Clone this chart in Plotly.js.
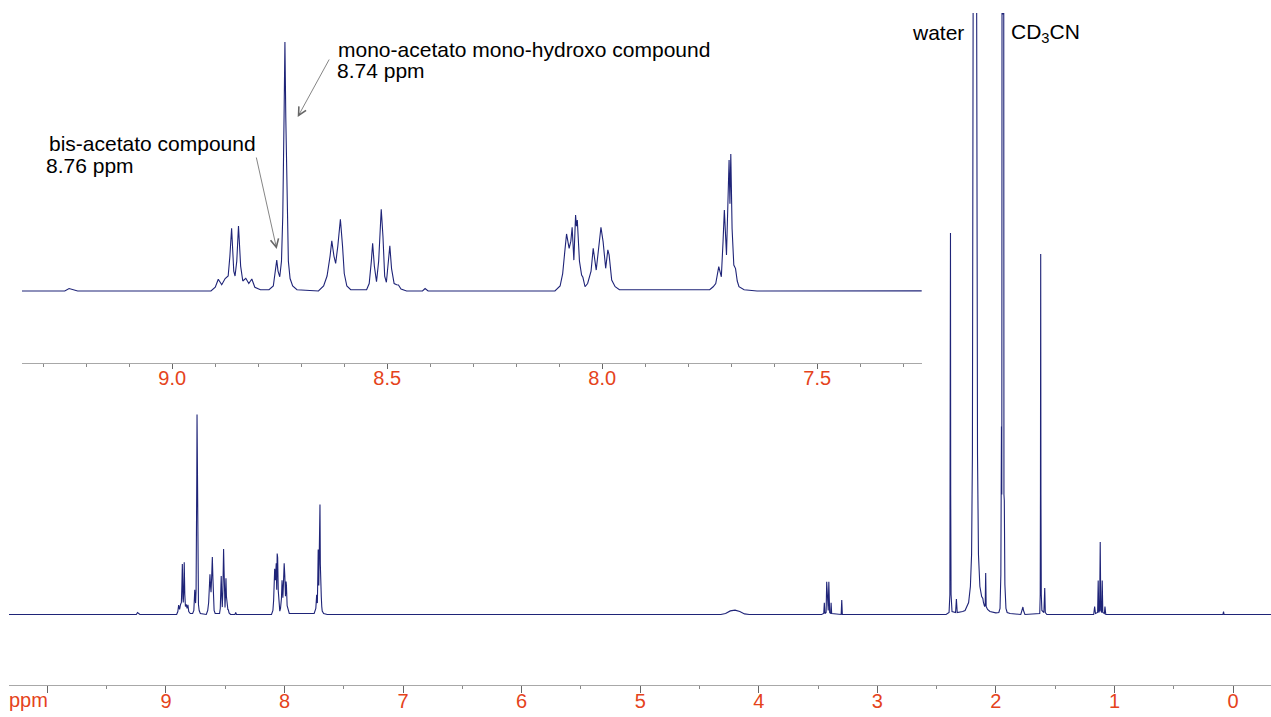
<!DOCTYPE html>
<html>
<head>
<meta charset="utf-8">
<script src="https://cdn.plot.ly/plotly-3.0.1.min.js"></script>
<style>
  html, body { margin: 0; padding: 0; background: #ffffff; }
  #chart { width: 1271px; height: 717px; }
</style>
</head>
<body>
<div id="chart"></div>
<script>
// 1H NMR spectrum (CD3CN), chemical shift in ppm and relative intensity (8.74 ppm line = 100)
const ppm = [
  10.35, 9.25, 9.24, 9.22,
  8.910, 8.900, 8.893, 8.885, 8.877, 8.870, 8.866, 8.862, 8.857, 8.854, 8.850, 8.846, 8.841, 8.836, 8.829, 8.822, 8.815, 8.808, 8.795,
  8.775, 8.765, 8.760, 8.757, 8.754, 8.750, 8.746, 8.743, 8.740, 8.738, 8.736, 8.733, 8.730, 8.726, 8.720, 8.710,
  8.660, 8.648, 8.640, 8.633, 8.629, 8.624, 8.620, 8.615, 8.609, 8.604, 8.600, 8.594, 8.585,
  8.548, 8.542, 8.537, 8.534, 8.530, 8.525, 8.520, 8.517, 8.514, 8.510, 8.506, 8.502, 8.498, 8.494, 8.490, 8.484, 8.478, 8.474, 8.468, 8.455,
  8.418, 8.412, 8.405,
  8.110, 8.098, 8.092, 8.087, 8.083, 8.077, 8.073, 8.070, 8.066, 8.062, 8.060, 8.058, 8.053, 8.048, 8.045, 8.040,
  8.034, 8.026, 8.021, 8.014, 8.010, 8.007, 8.003, 7.998, 7.992, 7.987, 7.984, 7.978, 7.970, 7.960,
  7.750, 7.742, 7.736, 7.729, 7.723, 7.719, 7.716, 7.711, 7.707, 7.705, 7.703, 7.701, 7.698, 7.696, 7.694, 7.690, 7.686, 7.682, 7.670, 7.640,
  4.32, 4.28, 4.24, 4.20, 4.16, 4.12, 4.08,
  3.470, 3.452, 3.447, 3.442, 3.432, 3.427, 3.420, 3.414, 3.409, 3.402, 3.393, 3.390, 3.385,
  3.305, 3.300, 3.295,
  2.420, 2.395, 2.388, 2.385, 2.383, 2.381, 2.378, 2.370, 2.340, 2.333, 2.326,
  2.280, 2.260, 2.230, 2.215, 2.205, 2.198, 2.192, 2.177, 2.162, 2.155, 2.147, 2.135, 2.120, 2.110, 2.105, 2.095,
  2.090, 2.086, 2.082, 2.070, 2.050, 2.000,
  1.975, 1.965, 1.958, 1.953, 1.950, 1.947, 1.944, 1.941, 1.938, 1.935, 1.932, 1.929, 1.924, 1.915, 1.905, 1.880,
  1.790, 1.777, 1.772, 1.767, 1.755,
  1.630, 1.626, 1.624, 1.622, 1.620, 1.617, 1.612, 1.595, 1.588, 1.583, 1.570,
  1.175, 1.167, 1.160, 1.142, 1.137, 1.132, 1.125, 1.120, 1.115, 1.108, 1.103, 1.098, 1.085, 1.080, 1.073,
  0.085, 0.080, 0.075, -0.35
];
const intensity = [
  0, 0, 1, 0,
  0, 1.5, 4.7, 2.5, 5.0, 6, 14, 25.2, 8, 6, 12, 26.1, 10, 4, 5.1, 3, 4.8, 1.5, 0.5,
  0.5, 2, 8, 12.4, 8, 5.7, 12, 30, 70, 100, 70, 30, 12, 5, 2, 0.5,
  0, 2, 6, 14, 20.1, 14, 11.1, 18, 28.8, 18, 7, 2, 0.5,
  0.5, 3, 12, 19.2, 10, 3.7, 12, 25, 32.8, 22, 6, 3.5, 10, 18.1, 9, 3, 2.5, 2.4, 0.8, 0,
  0, 1, 0,
  0, 2, 7, 16, 22.9, 17.1, 20, 25.6, 12.4, 30.5, 26, 28.5, 12, 6.4, 5.5, 1.7,
  3, 8, 17.1, 8.4, 14, 20.5, 25.6, 19.8, 9.1, 16.5, 14.5, 4.4, 1.7, 0.5,
  0.5, 1.7, 3, 9.8, 5.7, 20, 32.5, 14.5, 40, 52.6, 35, 55, 25, 14.5, 10.4, 9, 4, 1.7, 0.5, 0,
  0, 0.5, 1.8, 2.2, 1.5, 0.3, 0,
  0, 0.5, 5.9, 0.5, 1, 16.4, 2, 2, 16.4, 1, 0.5, 5.9, 0.5,
  0, 7.25, 0,
  0, 1, 10, 60, 190.75, 60, 10, 1.5, 1, 7.75, 1,
  1.5, 2, 6, 14, 30, 80, 300, 800, 300, 80, 30, 14, 9, 8, 6, 4,
  5, 20.75, 4, 2.5, 1.5, 0.8,
  1, 3, 20, 94, 60, 500, 300, 700, 300, 500, 60, 57, 15, 3, 1, 0.5,
  0, 2, 3.75, 2, 0,
  0.5, 10, 60, 180.25, 60, 10, 2, 1, 13.25, 1, 0,
  0, 4, 0.5, 1, 17, 1, 2, 36.25, 2, 1, 17, 1, 0.5, 4, 0,
  0, 1.5, 0, 0
];

const mainTickVals = [0, 1, 2, 3, 4, 5, 6, 7, 8, 9, 10];
const mainTickText = ['0', '1', '2', '3', '4', '5', '6', '7', '8', '9', ''];
const mainMinorVals = [0.5, 1.5, 2.5, 3.5, 4.5, 5.5, 6.5, 7.5, 8.5, 9.5];
const insetTickVals = [9.0, 8.5, 8.0, 7.5];
const insetTickText = ['9.0', '8.5', '8.0', '7.5'];
const insetMinorVals = [9.3, 9.2, 9.1, 8.9, 8.8, 8.7, 8.6, 8.4, 8.3, 8.2, 8.1, 7.9, 7.8, 7.7, 7.6, 7.4, 7.3];

const W = 1271, H = 717;
const px = v => v / W;
const py = v => 1 - v / H;

const lineColor = '#1f2478';
const tickLabelColor = '#e5431b';
const fontFamily = '"Liberation Sans", Arial, Helvetica, sans-serif';

const traces = [
  { x: ppm, y: intensity, type: 'scatter', mode: 'lines', xaxis: 'x', yaxis: 'y',
    line: { color: lineColor, width: 1.1 }, hoverinfo: 'skip', showlegend: false },
  { x: ppm, y: intensity, type: 'scatter', mode: 'lines', xaxis: 'x2', yaxis: 'y2',
    line: { color: lineColor, width: 1.1 }, hoverinfo: 'skip', showlegend: false }
];

const annFont = { family: fontFamily, size: 21, color: '#000000' };

const layout = {
  width: W, height: H, autosize: false,
  margin: { l: 0, r: 0, t: 0, b: 0, pad: 0 },
  paper_bgcolor: '#ffffff', plot_bgcolor: 'rgba(0,0,0,0)',
  showlegend: false,
  font: { family: fontFamily },
  xaxis: {
    domain: [px(9), 1], range: [10.324, -0.3205], anchor: 'y',
    showline: true, linecolor: '#a8a8a8', linewidth: 1.2,
    showgrid: false, zeroline: false,
    tickmode: 'array', tickvals: mainTickVals, ticktext: mainTickText,
    ticks: 'outside', ticklen: 7, tickwidth: 1, tickcolor: '#666666',
    ticklabelstandoff: -9,
    tickfont: { family: fontFamily, size: 20, color: tickLabelColor },
    minor: { tickmode: 'array', tickvals: mainMinorVals, ticks: 'outside', ticklen: 3, tickwidth: 1, tickcolor: '#888888', showgrid: false }
  },
  yaxis: {
    domain: [py(685), py(13)], range: [-35.25, 300.75], anchor: 'x',
    visible: false, showgrid: false, zeroline: false
  },
  xaxis2: {
    domain: [px(22), px(921.7)], range: [9.3495, 7.257], anchor: 'y2',
    showline: true, linecolor: '#a8a8a8', linewidth: 1.2,
    showgrid: false, zeroline: false,
    tickmode: 'array', tickvals: insetTickVals, ticktext: insetTickText,
    ticks: 'outside', ticklen: 5, tickwidth: 1, tickcolor: '#666666',
    ticklabelstandoff: -8,
    tickfont: { family: fontFamily, size: 20, color: tickLabelColor },
    minor: { tickmode: 'array', tickvals: insetMinorVals, ticks: 'outside', ticklen: 3, tickwidth: 1, tickcolor: '#888888', showgrid: false }
  },
  yaxis2: {
    domain: [py(362.7), py(30)], range: [-28.8, 104.8], anchor: 'x2',
    visible: false, showgrid: false, zeroline: false
  },
  annotations: [
    { xref: 'paper', yref: 'paper', x: px(50), y: py(700), xanchor: 'right', yanchor: 'middle',
      text: 'ppm', showarrow: false, font: { family: fontFamily, size: 20, color: tickLabelColor } },
    { xref: 'paper', yref: 'paper', x: px(336), y: py(49.5), xanchor: 'left', yanchor: 'middle',
      text: 'mono-acetato mono-hydroxo compound', showarrow: false, font: annFont },
    { xref: 'paper', yref: 'paper', x: px(335), y: py(71), xanchor: 'left', yanchor: 'middle',
      text: '8.74 ppm', showarrow: false, font: annFont },
    { xref: 'paper', yref: 'paper', x: px(47), y: py(144), xanchor: 'left', yanchor: 'middle',
      text: 'bis-acetato compound', showarrow: false, font: annFont },
    { xref: 'paper', yref: 'paper', x: px(44), y: py(165), xanchor: 'left', yanchor: 'middle',
      text: '8.76 ppm', showarrow: false, font: annFont },
    { xref: 'paper', yref: 'paper', x: px(910), y: py(32.5), xanchor: 'left', yanchor: 'middle',
      text: 'water', showarrow: false, font: annFont },
    { xref: 'paper', yref: 'paper', x: px(1009), y: py(33), xanchor: 'left', yanchor: 'middle',
      text: 'CD<sub>3</sub>CN', showarrow: false, font: annFont },
    { xref: 'paper', yref: 'paper', x: px(297.7), y: py(117), axref: 'pixel', ayref: 'pixel',
      ax: 330 - 297.7, ay: 58 - 117, text: '', showarrow: true, arrowhead: 5, arrowsize: 2,
      arrowwidth: 0.8, arrowcolor: '#666666', standoff: 0, startstandoff: 0 },
    { xref: 'paper', yref: 'paper', x: px(276.7), y: py(249), axref: 'pixel', ayref: 'pixel',
      ax: 256 - 276.7, ay: 156 - 249, text: '', showarrow: true, arrowhead: 5, arrowsize: 2,
      arrowwidth: 0.8, arrowcolor: '#666666', standoff: 0, startstandoff: 0 }
  ]
};

Plotly.newPlot('chart', traces, layout, { staticPlot: true, displayModeBar: false });
</script>
</body>
</html>
